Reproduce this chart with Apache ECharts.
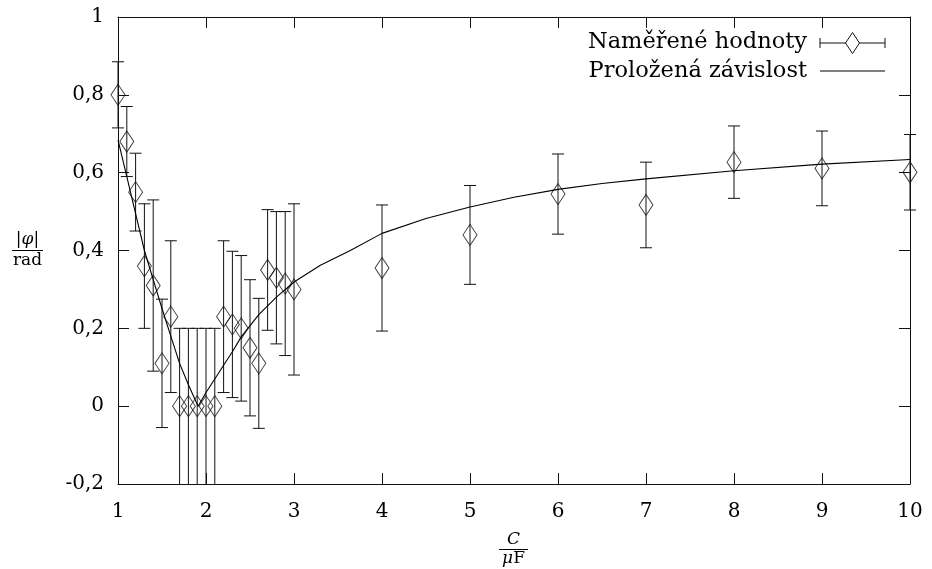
<!DOCTYPE html>
<html>
<head>
<meta charset="utf-8">
<script src="https://cdn.jsdelivr.net/npm/echarts@6/dist/echarts.min.js"></script>
<style>
  html, body { margin: 0; padding: 0; background: #fff; }
  #chart { width: 932px; height: 569px; }
</style>
</head>
<body>
<div id="chart"></div>
<script>
// measured points: C in uF, |phi| in rad, error half-width
var measX = [1.0, 1.1, 1.2, 1.3, 1.4, 1.5, 1.6, 1.7, 1.8, 1.9, 2.0, 2.1, 2.2, 2.3, 2.4, 2.5, 2.6, 2.7, 2.8, 2.9, 3.0,
             4, 5, 6, 7, 8, 9, 10];
var measY = [0.80, 0.68, 0.55, 0.36, 0.31, 0.11, 0.23, 0, 0, 0, 0, 0, 0.23, 0.21, 0.20, 0.15, 0.11, 0.35, 0.33, 0.315, 0.30,
             0.355, 0.44, 0.545, 0.517, 0.627, 0.611, 0.601];
var measErr = [0.085, 0.09, 0.10, 0.16, 0.22, 0.165, 0.195, 0.2, 0.2, 0.2, 0.2, 0.2, 0.195, 0.188, 0.187, 0.175, 0.167, 0.155, 0.17, 0.185, 0.22,
               0.162, 0.127, 0.103, 0.11, 0.093, 0.096, 0.097];

// fitted curve
var fitX = [1.0, 1.1, 1.2, 1.3, 1.4, 1.5, 1.6, 1.7, 1.8, 1.91, 2.0, 2.1, 2.2, 2.3, 2.4, 2.6, 2.8, 3.0, 3.3, 3.64,
            4, 4.5, 5, 5.5, 6, 6.5, 7, 8, 9, 10];
var fitY = [0.684, 0.59, 0.495, 0.40, 0.325, 0.251, 0.18, 0.11, 0.055, 0.0, 0.035, 0.07, 0.105, 0.14, 0.178, 0.235, 0.28, 0.319, 0.362, 0.40,
            0.444, 0.482, 0.512, 0.537, 0.557, 0.572, 0.584, 0.605, 0.622, 0.634];

var xTicks = { min: 1, max: 10, interval: 1 };
var yTicks = { min: -0.2, max: 1, interval: 0.2 };

var font = 'DejaVu Serif';
var ink = '#111';

var chart = echarts.init(document.getElementById('chart'));

var points = measX.map(function (x, i) { return [x, measY[i], measErr[i]]; });
var curve = fitX.map(function (x, i) { return [x, fitY[i]]; });

function fmt(v) {
    return String(+v.toFixed(1)).replace('.', ',');
}

var boxLine = { show: true, onZero: false, lineStyle: { color: ink } };
var mirrorTick = { show: true, inside: true, length: 11, lineStyle: { color: ink } };

var option = {
    animation: false,
    grid: { left: 118, right: 22, top: 17, bottom: 85 },
    xAxis: [
        {
            type: 'value', min: xTicks.min, max: xTicks.max, interval: xTicks.interval,
            axisLine: boxLine,
            axisTick: mirrorTick,
            splitLine: { show: false },
            axisLabel: { color: '#000', fontFamily: font, fontSize: 20, margin: 18 }
        },
        {
            type: 'value', position: 'top', min: xTicks.min, max: xTicks.max, interval: xTicks.interval,
            axisLine: boxLine,
            axisTick: mirrorTick,
            splitLine: { show: false },
            axisLabel: { show: false }
        }
    ],
    yAxis: [
        {
            type: 'value', min: yTicks.min, max: yTicks.max, interval: yTicks.interval,
            axisLine: boxLine,
            axisTick: mirrorTick,
            splitLine: { show: false },
            axisLabel: { color: '#000', fontFamily: font, fontSize: 20, margin: 14, formatter: fmt }
        },
        {
            type: 'value', position: 'right', min: yTicks.min, max: yTicks.max, interval: yTicks.interval,
            axisLine: boxLine,
            axisTick: mirrorTick,
            splitLine: { show: false },
            axisLabel: { show: false }
        }
    ],
    series: [
        {
            name: 'Naměřené hodnoty (chyby)',
            type: 'custom',
            data: points,
            z: 2,
            renderItem: function (params, api) {
                var x = api.value(0), y = api.value(1), e = api.value(2);
                var lo = y - e, hi = y + e;
                var cut = lo <= yTicks.min + 1e-9;
                if (cut) lo = yTicks.min;
                var top = api.coord([x, hi]);
                var bot = api.coord([x, lo]);
                var hw = 6;
                var st = { stroke: ink, lineWidth: 1 };
                var kids = [
                    { type: 'line', shape: { x1: top[0], y1: top[1], x2: bot[0], y2: bot[1] }, style: st },
                    { type: 'line', shape: { x1: top[0] - hw, y1: top[1], x2: top[0] + hw, y2: top[1] }, style: st }
                ];
                if (!cut) {
                    kids.push({ type: 'line', shape: { x1: bot[0] - hw, y1: bot[1], x2: bot[0] + hw, y2: bot[1] }, style: st });
                }
                return { type: 'group', children: kids };
            }
        },
        {
            name: 'Naměřené hodnoty',
            type: 'scatter',
            data: points,
            symbol: 'diamond',
            symbolSize: [14, 21],
            z: 3,
            itemStyle: { color: 'rgba(0,0,0,0)', borderColor: ink, borderWidth: 1 }
        },
        {
            name: 'Proložená závislost',
            type: 'line',
            data: curve,
            symbol: 'none',
            smooth: false,
            z: 4,
            lineStyle: { color: '#000', width: 1.1 }
        }
    ],
    graphic: {
        elements: [
            // legend
            { type: 'text', right: 932 - 807, top: 31, style: { text: 'Naměřené hodnoty', font: '22.5px "DejaVu Serif"', fill: '#000' } },
            { type: 'text', right: 932 - 807, top: 60, style: { text: 'Proložená závislost', font: '22.5px "DejaVu Serif"', fill: '#000' } },
            { type: 'line', shape: { x1: 820, y1: 43, x2: 885, y2: 43 }, style: { stroke: ink, lineWidth: 1 } },
            { type: 'line', shape: { x1: 820, y1: 38, x2: 820, y2: 48 }, style: { stroke: ink, lineWidth: 1 } },
            { type: 'line', shape: { x1: 885, y1: 38, x2: 885, y2: 48 }, style: { stroke: ink, lineWidth: 1 } },
            { type: 'polygon', shape: { points: [[852.5, 32.5], [859.5, 43], [852.5, 53.5], [845.5, 43]] }, style: { fill: '#fff', stroke: ink, lineWidth: 1 } },
            { type: 'line', shape: { x1: 820, y1: 71, x2: 885, y2: 71 }, style: { stroke: '#000', lineWidth: 1.1 } },
            // y axis name as a fraction
            { type: 'text', x: 27.5, y: 240, style: { text: '|φ|', font: 'italic 17px "DejaVu Serif"', fill: '#000', align: 'center', verticalAlign: 'middle' } },
            { type: 'line', shape: { x1: 12, y1: 250.5, x2: 43, y2: 250.5 }, style: { stroke: '#000', lineWidth: 1 } },
            { type: 'text', x: 27.5, y: 261, style: { text: 'rad', font: '17px "DejaVu Serif"', fill: '#000', align: 'center', verticalAlign: 'middle' } },
            // x axis name as a fraction
            { type: 'text', x: 513.5, y: 540, style: { text: 'C', font: 'italic 17px "DejaVu Serif"', fill: '#000', align: 'center', verticalAlign: 'middle' } },
            { type: 'line', shape: { x1: 499, y1: 549.5, x2: 528, y2: 549.5 }, style: { stroke: '#000', lineWidth: 1 } },
            {
                type: 'text', x: 513.5, y: 559,
                style: {
                    text: '{i|μ}F', font: '17px "DejaVu Serif"', fill: '#000', align: 'center', verticalAlign: 'middle',
                    rich: { i: { fontStyle: 'italic', fontFamily: font, fontSize: 17 } }
                }
            }
        ]
    }
};

chart.setOption(option);
</script>
</body>
</html>
